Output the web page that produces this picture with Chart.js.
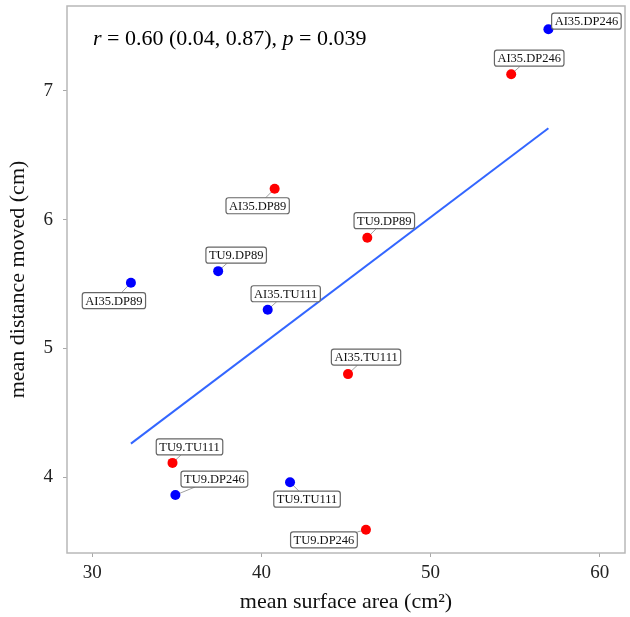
<!DOCTYPE html>
<html>
<head>
<meta charset="utf-8">
<script src="https://cdn.jsdelivr.net/npm/chart.js@4"></script>
<style>
  html, body { margin: 0; padding: 0; background: #fff; }
  #wrap { width: 630px; height: 617px; }
</style>
</head>
<body>
<div id="wrap"><canvas id="scatterChart"></canvas></div>
<script>
// data
var redLabels = ['AI35.DP246', 'AI35.DP89', 'TU9.DP89', 'AI35.TU111', 'TU9.TU111', 'TU9.DP246'];
var redX = [54.77, 40.78, 46.26, 45.12, 34.74, 46.18];
var redY = [7.13, 6.24, 5.86, 4.80, 4.11, 3.59];

var blueLabels = ['AI35.DP246', 'TU9.DP89', 'AI35.DP89', 'AI35.TU111', 'TU9.DP246', 'TU9.TU111'];
var blueX = [56.97, 37.44, 32.28, 40.37, 34.91, 41.69];
var blueY = [7.48, 5.60, 5.51, 5.30, 3.86, 3.96];

// fitted line end points
var fitX = [32.28, 56.97];
var fitY = [4.26, 6.71];

var xTicks = [30, 40, 50, 60];
var yTicks = [4, 5, 6, 7];

// where each label box sits relative to its point (px)
var redOffsets = [[18, -16], [-17, 17], [17, -17], [18, -17], [17, -16], [-42, 10]];
var blueOffsets = [[38, -8], [18, -16], [-17, 18], [18, -16], [39, -16], [17, 17]];

var SERIF = '"Liberation Serif", "DejaVu Serif", serif';
var LABEL_FONT = '12.5px ' + SERIF;

function toPoints(xs, ys) {
  return xs.map(function (x, i) { return { x: x, y: ys[i] }; });
}

// panel border
var panelBox = {
  id: 'panelBox',
  afterDraw: function (chart) {
    var a = chart.chartArea, ctx = chart.ctx;
    ctx.save();
    ctx.strokeStyle = '#b8b8b8';
    ctx.lineWidth = 1.5;
    ctx.strokeRect(a.left, a.top, a.right - a.left, a.bottom - a.top);
    ctx.restore();
  }
};

function labelBoxes(chart) {
  var ctx = chart.ctx;
  var sets = [
    { meta: chart.getDatasetMeta(1), labels: redLabels, offs: redOffsets },
    { meta: chart.getDatasetMeta(2), labels: blueLabels, offs: blueOffsets }
  ];
  var out = [];
  ctx.save();
  ctx.font = LABEL_FONT;
  sets.forEach(function (s) {
    s.meta.data.forEach(function (pt, i) {
      var cx = pt.x + s.offs[i][0], cy = pt.y + s.offs[i][1];
      var w = ctx.measureText(s.labels[i]).width + 6, h = 16;
      out.push({ px: pt.x, py: pt.y, cx: cx, cy: cy, w: w, h: h, text: s.labels[i] });
    });
  });
  ctx.restore();
  return out;
}

// labels with boxes, like ggrepel
var pointLabels = {
  id: 'pointLabels',
  beforeDatasetsDraw: function (chart) {
    var ctx = chart.ctx;
    ctx.save();
    ctx.strokeStyle = '#a0a0a0';
    ctx.lineWidth = 1;
    labelBoxes(chart).forEach(function (b) {
      var dx = b.cx - b.px, dy = b.cy - b.py;
      var t = Math.min(Math.abs((b.w / 2) / (dx || 1e-6)), Math.abs((b.h / 2) / (dy || 1e-6)));
      ctx.beginPath();
      ctx.moveTo(b.px, b.py);
      ctx.lineTo(b.cx - dx * t, b.cy - dy * t);
      ctx.stroke();
    });
    ctx.restore();
  },
  afterDatasetsDraw: function (chart) {
    var ctx = chart.ctx;
    ctx.save();
    ctx.font = LABEL_FONT;
    labelBoxes(chart).forEach(function (b) {
      ctx.fillStyle = '#ffffff';
      ctx.strokeStyle = '#666666';
      ctx.lineWidth = 1.2;
      ctx.beginPath();
      ctx.roundRect(b.cx - b.w / 2, b.cy - b.h / 2, b.w, b.h, 2.5);
      ctx.fill();
      ctx.stroke();
      ctx.fillStyle = '#111111';
      ctx.textAlign = 'center';
      ctx.textBaseline = 'middle';
      ctx.fillText(b.text, b.cx, b.cy + 1);
    });
    ctx.restore();
  }
};

// correlation note, top left
var statNote = {
  id: 'statNote',
  afterDraw: function (chart) {
    var ctx = chart.ctx;
    var parts = [
      ['r', true], [' = 0.60 (0.04, 0.87), ', false], ['p', true], [' = 0.039', false]
    ];
    var x = 93, y = 45;
    ctx.save();
    ctx.fillStyle = '#000';
    ctx.textBaseline = 'alphabetic';
    parts.forEach(function (p) {
      ctx.font = (p[1] ? 'italic ' : '') + '22px ' + SERIF;
      ctx.fillText(p[0], x, y);
      x += ctx.measureText(p[0]).width;
    });
    ctx.restore();
  }
};

var ctx = document.getElementById('scatterChart').getContext('2d');
var scatterChart = new Chart(ctx, {
  type: 'scatter',
  data: {
    datasets: [{
      type: 'line',
      data: toPoints(fitX, fitY),
      borderColor: '#3366ff',
      borderWidth: 2,
      pointRadius: 0,
      fill: false
    }, {
      data: toPoints(redX, redY),
      backgroundColor: '#ff0000',
      borderColor: '#ff0000',
      borderWidth: 0,
      pointRadius: 5
    }, {
      data: toPoints(blueX, blueY),
      backgroundColor: '#0000ff',
      borderColor: '#0000ff',
      borderWidth: 0,
      pointRadius: 5
    }]
  },
  options: {
    responsive: true,
    maintainAspectRatio: false,
    animation: false,
    layout: { padding: { top: 6, right: 5, left: 0, bottom: 0 } },
    plugins: {
      legend: { display: false },
      tooltip: { enabled: false }
    },
    scales: {
      x: {
        type: 'linear',
        min: 28.5,
        max: 61.5,
        afterBuildTicks: function (scale) {
          scale.ticks = xTicks.map(function (v) { return { value: v }; });
        },
        afterFit: function (scale) {
          scale.height = 64;
          scale.paddingLeft = 0;
          scale.paddingRight = 0;
        },
        grid: { drawOnChartArea: false, drawTicks: true, tickLength: 4, color: '#a8a8a8' },
        border: { display: false },
        ticks: { color: '#222', padding: 5, font: { family: SERIF, size: 19 } },
        title: {
          display: true,
          text: 'mean surface area (cm²)',
          color: '#111',
          padding: { top: 0, bottom: 2 },
          font: { family: SERIF, size: 22 }
        }
      },
      y: {
        type: 'linear',
        min: 3.41,
        max: 7.66,
        afterBuildTicks: function (scale) {
          scale.ticks = yTicks.map(function (v) { return { value: v }; });
        },
        afterFit: function (scale) {
          scale.width = 67;
          scale.paddingTop = 0;
          scale.paddingBottom = 0;
        },
        grid: { drawOnChartArea: false, drawTicks: true, tickLength: 4, color: '#a8a8a8' },
        border: { display: false },
        ticks: { color: '#222', padding: 10, font: { family: SERIF, size: 19 } },
        title: {
          display: true,
          text: 'mean distance moved (cm)',
          color: '#111',
          padding: { top: 5, bottom: 0 },
          font: { family: SERIF, size: 22 }
        }
      }
    }
  },
  plugins: [panelBox, pointLabels, statNote]
});
</script>
</body>
</html>
